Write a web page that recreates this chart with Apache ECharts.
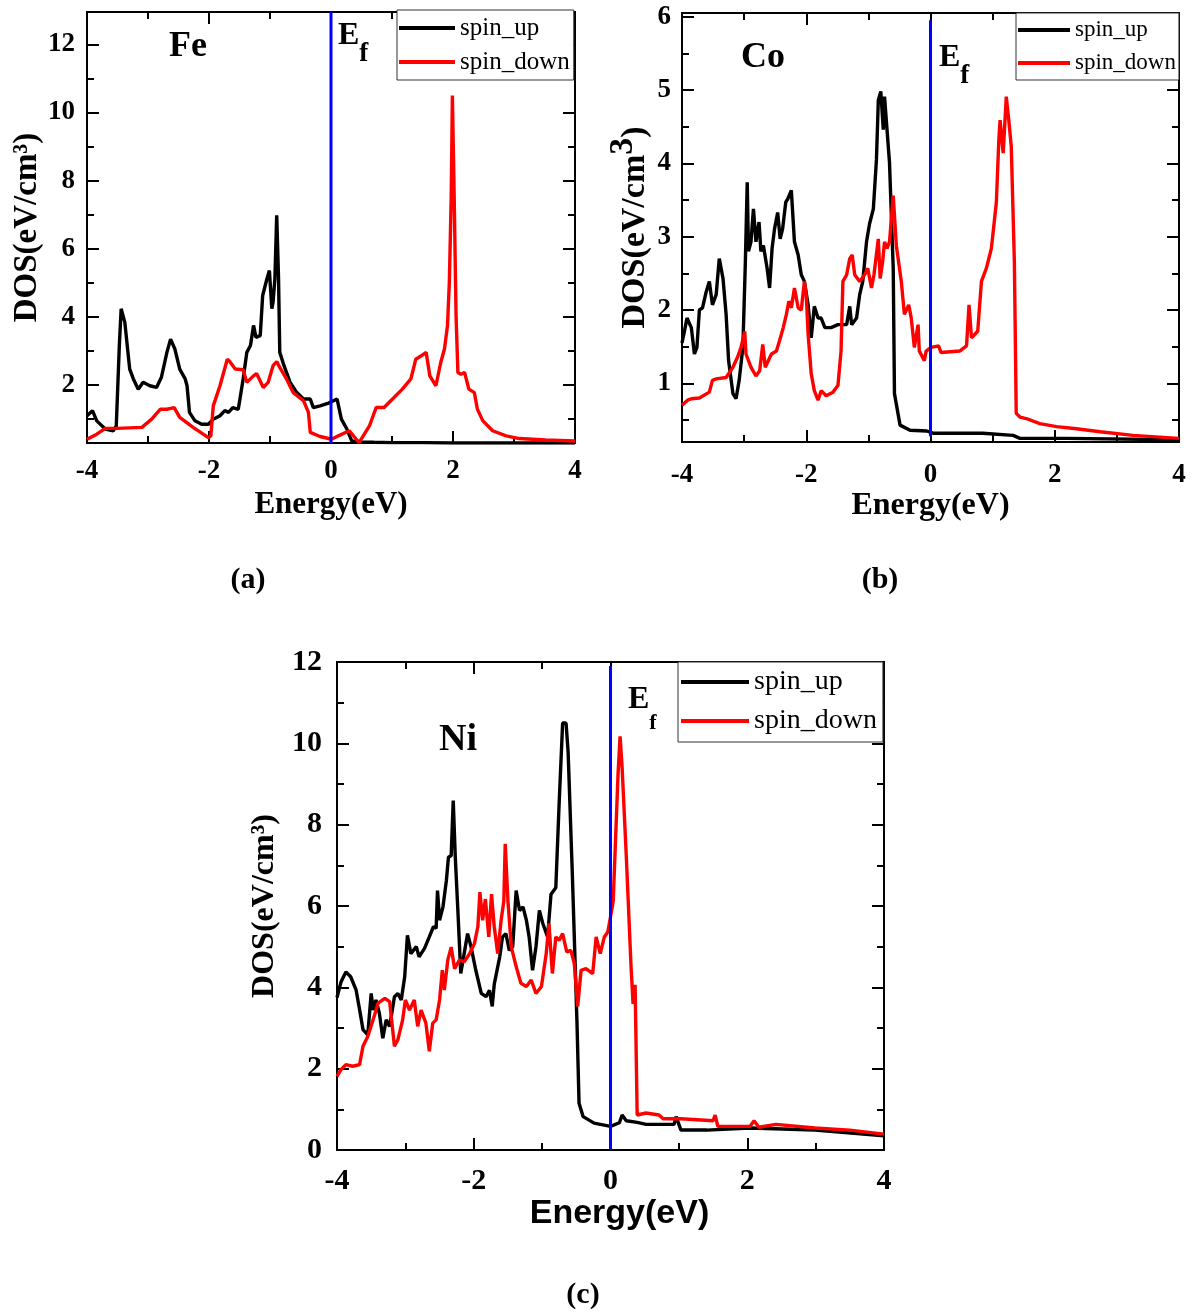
<!DOCTYPE html>
<html>
<head>
<meta charset="utf-8">
<script src="https://cdn.jsdelivr.net/npm/echarts@6/dist/echarts.min.js"></script>
<style>
html,body{margin:0;padding:0;background:#fff;}
#chart{width:1194px;height:1313px;}
</style>
</head>
<body>
<div id="chart"></div>
<script>
// ---------- DATA: [Energy (eV), DOS] ----------
const feUp = [[-4.0,1.1],[-3.91,1.25],[-3.84,0.95],[-3.70,0.71],[-3.57,0.66],[-3.52,0.80],[-3.47,3.16],[-3.44,4.24],[-3.38,3.84],[-3.30,2.47],[-3.24,2.18],[-3.16,1.88],[-3.08,2.08],[-2.97,1.98],[-2.86,1.93],[-2.78,2.23],[-2.69,2.96],[-2.63,3.35],[-2.56,3.06],[-2.48,2.47],[-2.39,2.18],[-2.36,1.98],[-2.32,1.2],[-2.23,0.95],[-2.12,0.85],[-2.01,0.85],[-1.93,1.0],[-1.82,1.1],[-1.74,1.25],[-1.68,1.2],[-1.61,1.34],[-1.52,1.29],[-1.44,2.18],[-1.38,2.96],[-1.32,3.16],[-1.27,3.75],[-1.23,3.4],[-1.16,3.45],[-1.12,4.63],[-1.05,5.12],[-1.01,5.36],[-0.97,4.24],[-0.95,4.43],[-0.92,5.12],[-0.89,6.98],[-0.86,5.12],[-0.84,2.96],[-0.77,2.57],[-0.67,2.08],[-0.56,1.78],[-0.45,1.59],[-0.34,1.59],[-0.29,1.34],[-0.18,1.39],[-0.04,1.47],[0.04,1.54],[0.10,1.59],[0.17,1.0],[0.26,0.71],[0.34,0.36],[0.45,0.33],[0.7,0.32],[1.0,0.31],[1.5,0.31],[2.0,0.3],[3.0,0.3],[4.0,0.3]];
const feDown = [[-4.0,0.41],[-3.84,0.56],[-3.70,0.73],[-3.51,0.73],[-3.10,0.76],[-2.94,1.0],[-2.80,1.29],[-2.69,1.29],[-2.57,1.34],[-2.48,1.05],[-2.26,0.76],[-2.01,0.46],[-1.97,0.51],[-1.93,1.39],[-1.82,1.98],[-1.70,2.76],[-1.66,2.69],[-1.57,2.47],[-1.44,2.45],[-1.38,2.08],[-1.27,2.27],[-1.22,2.34],[-1.11,1.93],[-1.03,2.08],[-0.95,2.57],[-0.89,2.69],[-0.84,2.52],[-0.73,2.18],[-0.62,1.78],[-0.45,1.54],[-0.37,1.20],[-0.34,0.61],[-0.18,0.49],[0.01,0.41],[0.12,0.51],[0.30,0.66],[0.46,0.31],[0.63,0.80],[0.74,1.34],[0.87,1.34],[0.98,1.54],[1.17,1.88],[1.31,2.18],[1.39,2.76],[1.48,2.86],[1.56,2.96],[1.62,2.27],[1.72,1.98],[1.80,2.67],[1.86,3.06],[1.91,3.75],[1.94,5.02],[1.97,7.47],[1.99,10.5],[2.02,7.47],[2.05,4.04],[2.08,2.37],[2.13,2.32],[2.19,2.37],[2.26,1.88],[2.35,1.78],[2.40,1.29],[2.49,0.95],[2.65,0.66],[2.87,0.51],[3.09,0.43],[3.52,0.39],[4.0,0.36]];
const coUp = [[-4.0,1.55],[-3.97,1.67],[-3.92,1.89],[-3.85,1.76],[-3.80,1.40],[-3.76,1.49],[-3.72,2.0],[-3.67,2.03],[-3.61,2.25],[-3.56,2.39],[-3.51,2.07],[-3.45,2.21],[-3.40,2.70],[-3.34,2.43],[-3.29,1.94],[-3.25,1.31],[-3.18,0.86],[-3.13,0.79],[-3.08,1.04],[-3.02,1.49],[-2.98,2.66],[-2.95,3.74],[-2.93,2.80],[-2.89,2.93],[-2.85,3.38],[-2.81,2.93],[-2.76,3.20],[-2.73,2.80],[-2.69,2.88],[-2.63,2.57],[-2.59,2.30],[-2.55,2.84],[-2.51,3.11],[-2.46,3.33],[-2.42,2.97],[-2.38,3.11],[-2.33,3.47],[-2.30,3.51],[-2.24,3.63],[-2.19,2.93],[-2.13,2.75],[-2.08,2.48],[-2.03,2.39],[-1.97,2.07],[-1.92,1.62],[-1.87,2.05],[-1.81,1.89],[-1.76,1.89],[-1.70,1.76],[-1.60,1.76],[-1.49,1.80],[-1.41,1.80],[-1.35,1.80],[-1.30,2.05],[-1.27,1.80],[-1.19,1.89],[-1.14,2.21],[-1.09,2.39],[-1.03,2.93],[-0.98,3.18],[-0.92,3.38],[-0.87,4.05],[-0.84,4.86],[-0.80,4.98],[-0.76,4.46],[-0.74,4.91],[-0.70,4.46],[-0.66,4.01],[-0.60,2.57],[-0.58,0.86],[-0.49,0.43],[-0.33,0.36],[-0.06,0.35],[0.04,0.32],[0.84,0.32],[1.33,0.29],[1.44,0.25],[2.19,0.25],[4.0,0.23]];
const coDown = [[-4.0,0.70],[-3.99,0.72],[-3.91,0.77],[-3.85,0.79],[-3.72,0.80],[-3.56,0.88],[-3.51,1.04],[-3.45,1.06],[-3.29,1.08],[-3.18,1.22],[-3.10,1.37],[-3.05,1.49],[-2.99,1.71],[-2.97,1.40],[-2.89,1.22],[-2.81,1.10],[-2.75,1.17],[-2.70,1.53],[-2.66,1.22],[-2.56,1.40],[-2.48,1.44],[-2.43,1.58],[-2.37,1.76],[-2.32,1.94],[-2.28,2.12],[-2.24,2.03],[-2.19,2.30],[-2.13,2.03],[-2.08,2.0],[-2.03,2.39],[-2.00,2.21],[-1.97,1.67],[-1.92,1.13],[-1.87,0.90],[-1.81,0.77],[-1.76,0.90],[-1.68,0.83],[-1.57,0.88],[-1.49,0.97],[-1.44,1.44],[-1.41,2.39],[-1.35,2.48],[-1.30,2.70],[-1.26,2.75],[-1.22,2.48],[-1.14,2.39],[-1.06,2.48],[-1.01,2.57],[-0.95,2.30],[-0.91,2.48],[-0.84,2.97],[-0.81,2.43],[-0.77,2.66],[-0.74,2.93],[-0.70,2.84],[-0.66,2.93],[-0.60,3.56],[-0.55,2.88],[-0.47,2.39],[-0.42,1.94],[-0.35,2.07],[-0.31,1.89],[-0.26,1.49],[-0.20,1.80],[-0.18,1.44],[-0.10,1.31],[-0.07,1.44],[0.01,1.49],[0.13,1.51],[0.17,1.42],[0.47,1.44],[0.58,1.51],[0.62,2.07],[0.66,1.62],[0.76,1.71],[0.82,2.39],[0.90,2.57],[0.98,2.84],[1.06,3.47],[1.10,4.32],[1.12,4.59],[1.17,4.14],[1.22,4.91],[1.26,4.59],[1.30,4.23],[1.35,2.66],[1.38,0.59],[1.44,0.54],[1.54,0.52],[1.76,0.45],[2.03,0.41],[2.35,0.38],[2.73,0.34],[3.26,0.29],[4.0,0.25]];
const niUp = [[-4.0,3.75],[-3.94,4.14],[-3.87,4.38],[-3.80,4.26],[-3.72,3.93],[-3.66,3.36],[-3.62,2.96],[-3.55,2.83],[-3.50,3.85],[-3.47,3.44],[-3.43,3.69],[-3.38,3.36],[-3.33,2.75],[-3.28,3.20],[-3.23,3.04],[-3.16,3.77],[-3.11,3.85],[-3.06,3.69],[-3.01,4.26],[-2.97,5.28],[-2.92,4.83],[-2.84,5.0],[-2.80,4.75],[-2.72,4.96],[-2.65,5.24],[-2.59,5.49],[-2.55,5.45],[-2.53,6.38],[-2.50,5.65],[-2.45,5.98],[-2.40,6.63],[-2.37,7.20],[-2.33,7.24],[-2.30,8.59],[-2.27,7.20],[-2.23,5.81],[-2.19,4.34],[-2.14,4.83],[-2.09,5.32],[-2.04,5.0],[-1.97,4.42],[-1.89,3.85],[-1.82,3.77],[-1.77,3.93],[-1.73,3.53],[-1.70,4.08],[-1.62,4.75],[-1.58,5.24],[-1.53,5.32],[-1.48,4.91],[-1.43,5.0],[-1.38,6.38],[-1.33,5.89],[-1.28,5.98],[-1.23,5.65],[-1.19,5.24],[-1.14,4.42],[-1.09,5.0],[-1.04,5.89],[-0.99,5.57],[-0.92,5.24],[-0.87,6.29],[-0.80,6.45],[-0.75,8.57],[-0.70,10.5],[-0.65,10.5],[-0.62,9.79],[-0.56,6.88],[-0.49,3.12],[-0.46,1.15],[-0.40,0.82],[-0.24,0.66],[0.0,0.58],[0.13,0.67],[0.17,0.86],[0.23,0.72],[0.39,0.68],[0.52,0.63],[0.93,0.63],[0.96,0.82],[1.03,0.49],[1.41,0.49],[2.04,0.54],[2.99,0.49],[4.0,0.35]];
const niDown = [[-4.0,1.81],[-3.94,1.98],[-3.87,2.10],[-3.77,2.06],[-3.67,2.10],[-3.62,2.55],[-3.55,2.79],[-3.45,3.32],[-3.40,3.61],[-3.30,3.73],[-3.23,3.65],[-3.16,2.55],[-3.11,2.71],[-3.04,3.20],[-3.00,3.69],[-2.94,3.44],[-2.87,3.69],[-2.82,3.04],[-2.77,3.44],[-2.70,3.12],[-2.65,2.43],[-2.60,3.12],[-2.55,3.20],[-2.50,3.69],[-2.46,4.42],[-2.43,3.93],[-2.38,4.67],[-2.33,4.99],[-2.28,4.46],[-2.21,4.67],[-2.14,4.63],[-2.06,4.83],[-1.99,5.08],[-1.94,5.49],[-1.91,6.34],[-1.87,5.65],[-1.83,6.17],[-1.78,5.24],[-1.74,6.29],[-1.70,5.49],[-1.65,4.83],[-1.60,5.65],[-1.56,6.12],[-1.54,7.53],[-1.50,6.12],[-1.45,4.99],[-1.38,4.51],[-1.31,4.10],[-1.23,4.02],[-1.16,4.18],[-1.09,3.85],[-1.01,4.02],[-0.94,4.83],[-0.90,5.57],[-0.85,4.34],[-0.80,5.24],[-0.75,5.16],[-0.70,5.32],[-0.64,4.87],[-0.58,4.91],[-0.53,4.59],[-0.48,3.53],[-0.43,4.42],[-0.36,4.46],[-0.26,4.34],[-0.21,5.24],[-0.15,4.83],[-0.09,5.24],[-0.04,5.36],[0.0,5.73],[0.04,6.13],[0.11,9.23],[0.14,10.17],[0.17,9.4],[0.23,7.26],[0.30,4.53],[0.33,3.59],[0.36,4.06],[0.39,0.86],[0.52,0.91],[0.71,0.86],[0.77,0.77],[1.03,0.77],[1.50,0.72],[1.53,0.86],[1.57,0.58],[2.04,0.58],[2.10,0.72],[2.17,0.56],[2.42,0.63],[2.99,0.54],[3.50,0.49],[4.0,0.39]];
// Fermi level lines (E = 0)
const efA = [[0,0.3],[0,12.95]];
const efB = [[0,0.28],[0,5.95]];
const efC = [[0,0],[0,11.9]];
// Tick values
const xMajor = [-4,-2,0,2,4];
const xMinor = [-3,-1,1,3];
const yMajorA = [2,4,6,8,10,12];
const yMinorA = [1,3,5,7,9,11];
const yMajorB = [1,2,3,4,5,6];
const yMinorB = [0.5,1.5,2.5,3.5,4.5,5.5];
const yMajorC = [0,2,4,6,8,10,12];
const yMinorC = [1,3,5,7,9,11];
const seriesNames = ['spin_up','spin_down'];

// ---------- CHART ----------
const SERIF = 'Liberation Serif';
const SANS = 'Liberation Sans';

function tickAxis(gi, range, pos, vals, len, label, extra) {
  const ax = {
    type: 'value', gridIndex: gi, min: range[0], max: range[1], position: pos,
    axisLine: {show: false, onZero: false},
    splitLine: {show: false},
    axisTick: {show: true, inside: true, length: len, customValues: vals, lineStyle: {color: '#000', width: 2}},
    axisLabel: label ? Object.assign({show: true, customValues: vals, color: '#000', fontFamily: SERIF, fontWeight: 'bold'}, label) : {show: false}
  };
  return Object.assign(ax, extra || {});
}

const panels = [
  {grid: {left: 87, top: 12, width: 488, height: 431}, yr: [0.3, 12.95], yMaj: yMajorA, yMin: yMinorA,
   up: feUp, down: feDown, ef: efA,
   xLabel: {fontSize: 27, margin: 15}, yLabel: {fontSize: 27, margin: 12},
   xName: {name: 'Energy(eV)', nameLocation: 'middle', nameGap: 46, nameTextStyle: {fontFamily: SERIF, fontWeight: 'bold', fontSize: 31, color: '#000'}},
   yName: {name: 'DOS(eV/cm\u00B3)', nameLocation: 'middle', nameGap: 40, nameTextStyle: {fontFamily: SERIF, fontWeight: 'bold', fontSize: 33, color: '#000'}}},
  {grid: {left: 682, top: 13, width: 497, height: 429}, yr: [0.2, 6.05], yMaj: yMajorB, yMin: yMinorB,
   up: coUp, down: coDown, ef: efB,
   xLabel: {fontSize: 27, margin: 20}, yLabel: {fontSize: 27, margin: 11},
   xName: {name: 'Energy(eV)', nameLocation: 'middle', nameGap: 31, nameTextStyle: {fontFamily: SERIF, fontWeight: 'bold', fontSize: 32, color: '#000'}},
   yName: {name: '{a|DOS(eV/cm}{b|3}{a|)}', nameLocation: 'middle', nameGap: 30,
           nameTextStyle: {color: '#000', rich: {
             a: {fontFamily: SERIF, fontWeight: 'bold', fontSize: 34, color: '#000', padding: [12, 0, 0, 0]},
             b: {fontFamily: SERIF, fontWeight: 'bold', fontSize: 34, color: '#000', verticalAlign: 'top'}}}}},
  {grid: {left: 337, top: 662, width: 547, height: 488}, yr: [0, 12], yMaj: yMajorC, yMin: yMinorC,
   up: niUp, down: niDown, ef: efC,
   xLabel: {fontSize: 30, margin: 16}, yLabel: {fontSize: 30, margin: 15},
   xName: {name: 'Energy(eV)', nameLocation: 'middle', nameGap: 45, nameTextStyle: {fontFamily: SANS, fontWeight: 'bold', fontSize: 34, color: '#000', padding: [0, 0, 0, 18]}},
   yName: {name: 'DOS(eV/cm\u00B3)', nameLocation: 'middle', nameGap: 56, nameTextStyle: {fontFamily: SERIF, fontWeight: 'bold', fontSize: 32, color: '#000'}}}
];

const grids = [], xAxes = [], yAxes = [], series = [];
panels.forEach((p, i) => {
  grids.push(Object.assign({show: true, borderColor: '#000', borderWidth: 2, backgroundColor: 'transparent', containLabel: false}, p.grid));
  const xr = [-4, 4];
  const base = xAxes.length;
  xAxes.push(tickAxis(i, xr, 'bottom', xMajor, 12, p.xLabel, p.xName));
  xAxes.push(tickAxis(i, xr, 'bottom', xMinor, 7, null));
  xAxes.push(tickAxis(i, xr, 'top', xMajor, 12, null));
  xAxes.push(tickAxis(i, xr, 'top', xMinor, 7, null));
  yAxes.push(tickAxis(i, p.yr, 'left', p.yMaj, 12, p.yLabel, p.yName));
  yAxes.push(tickAxis(i, p.yr, 'left', p.yMin, 7, null));
  yAxes.push(tickAxis(i, p.yr, 'right', p.yMaj, 12, null));
  yAxes.push(tickAxis(i, p.yr, 'right', p.yMin, 7, null));
  const common = {type: 'line', xAxisIndex: base, yAxisIndex: base, showSymbol: false, symbol: 'none', clip: true, animation: false, silent: true};
  series.push(Object.assign({}, common, {name: seriesNames[0], data: p.up, lineStyle: {color: '#000', width: 3.4}, itemStyle: {color: '#000'}, z: 3}));
  series.push(Object.assign({}, common, {name: seriesNames[1], data: p.down, lineStyle: {color: '#ff0000', width: 3.4}, itemStyle: {color: '#ff0000'}, z: 4}));
  series.push(Object.assign({}, common, {name: 'Ef', data: p.ef, lineStyle: {color: '#0000ff', width: 3}, itemStyle: {color: '#0000ff'}, z: 5}));
});

const legendBase = {orient: 'vertical', icon: 'rect', data: seriesNames, borderColor: '#333', borderWidth: 1, backgroundColor: '#fff', selectedMode: false, z: 10};
const legends = [
  Object.assign({}, legendBase, {left: 397, top: 10, itemWidth: 56, itemHeight: 4, itemGap: 6, padding: [4, 4, 4, 2],
    textStyle: {fontFamily: SERIF, fontSize: 25, lineHeight: 28, color: '#000'}}),
  Object.assign({}, legendBase, {left: 1016, top: 13, itemWidth: 52, itemHeight: 4, itemGap: 5, padding: [3, 3, 3, 2],
    textStyle: {fontFamily: SERIF, fontSize: 23, lineHeight: 28, color: '#000'}}),
  Object.assign({}, legendBase, {left: 678, top: 662, itemWidth: 68, itemHeight: 4, itemGap: 7, padding: [4, 6, 5, 3],
    textStyle: {fontFamily: SERIF, fontSize: 28, lineHeight: 32, color: '#000'}})
];

function label(txt, x, y, size, family) {
  return {type: 'text', x: x, y: y, z: 20, style: {text: txt, x: 0, y: 0, align: 'center', verticalAlign: 'middle',
    fontFamily: family || SERIF, fontWeight: 'bold', fontSize: size, fill: '#000'}};
}
// E with subscript f; (x, y) = top-left of the label box
function efLabel(x, y, eSize, fSize, drop) {
  return {type: 'text', x: x, y: y, z: 20, style: {text: '{e|E}{f|f}', x: 0, y: 0, align: 'left', verticalAlign: 'top',
    rich: {e: {fontFamily: SERIF, fontWeight: 'bold', fontSize: eSize, fill: '#000', verticalAlign: 'top', lineHeight: eSize + 2 * drop},
           f: {fontFamily: SERIF, fontWeight: 'bold', fontSize: fSize, fill: '#000', verticalAlign: 'bottom', lineHeight: fSize}}}};
}

const graphics = [
  label('Fe', 188, 47, 36),
  label('Co', 763, 58, 36),
  label('Ni', 458, 740, 38),
  efLabel(338, 20, 32, 27, 8),
  efLabel(939, 42, 32, 27, 8),
  efLabel(628, 684, 32, 22, 9),
  label('(a)', 248, 580, 30),
  label('(b)', 880, 580, 30),
  label('(c)', 583, 1295, 30)
];

const chart = echarts.init(document.getElementById('chart'), null, {renderer: 'canvas'});
chart.setOption({
  backgroundColor: '#fff',
  animation: false,
  grid: grids,
  xAxis: xAxes,
  yAxis: yAxes,
  legend: legends,
  series: series,
  graphic: graphics
});
</script>
</body>
</html>
